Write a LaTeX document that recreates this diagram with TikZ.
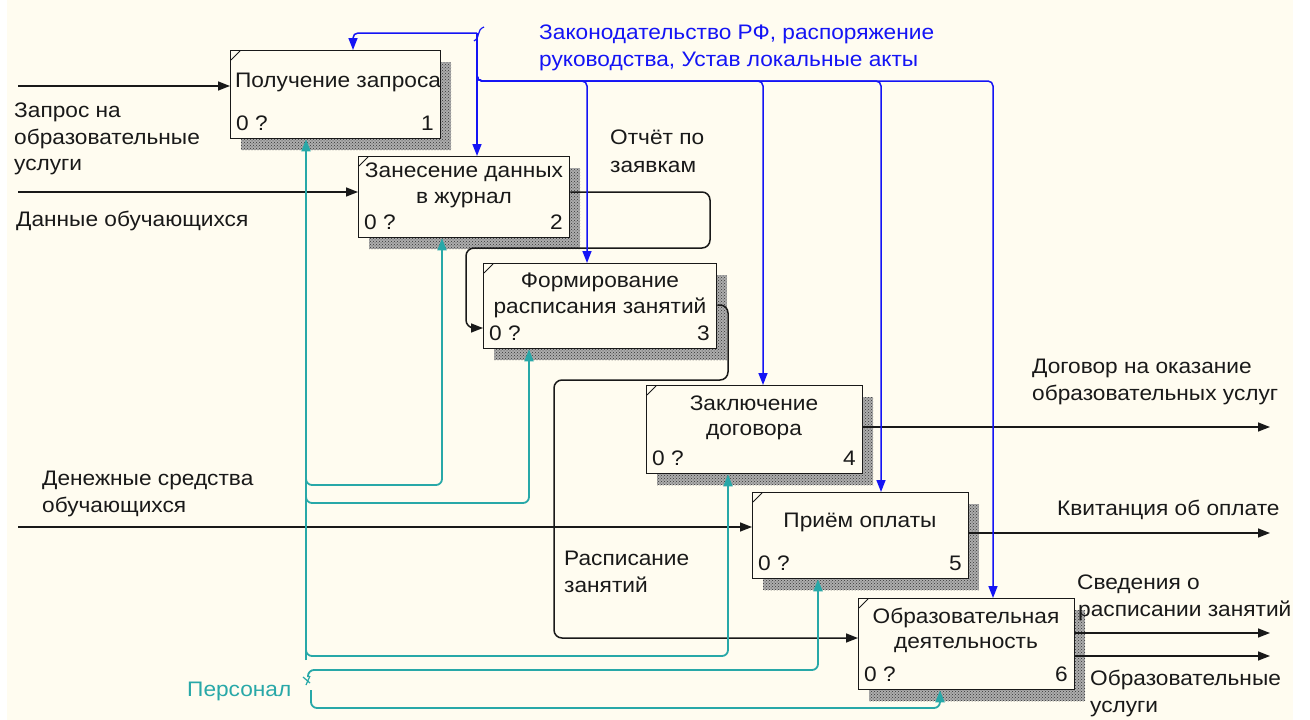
\documentclass[tikz,border=0pt]{standalone}
\usepackage{fontspec}
\setmainfont[FakeStretch=1.08]{Liberation Sans}
\usetikzlibrary{arrows.meta,patterns}

\definecolor{paper}{RGB}{255,252,240}
\definecolor{ctlblue}{RGB}{20,20,245}
\definecolor{mechteal}{RGB}{40,168,168}
\definecolor{ink}{RGB}{25,25,25}

\tikzset{
  fbox/.style={draw=ink, fill=paper, line width=1.3pt, inner sep=0pt, anchor=north west},
  boxshade/.style={preaction={fill=black!32}, pattern=crosshatch dots, pattern color=black!80},
  txt/.style={font=\fontsize{21}{27}\selectfont, text=ink, inner sep=0pt},
  ctltxt/.style={txt, text=ctlblue},
  mechtxt/.style={txt, text=mechteal},
  tip/.style={-{Triangle[length=12pt,width=9pt]}},
  flow/.style={draw=ink, line width=1.5pt, rounded corners=8pt, tip},
  ctl/.style={draw=ctlblue, line width=1.5pt, rounded corners=5pt, tip},
  mech/.style={draw=mechteal, line width=1.8pt, rounded corners=6pt, tip},
}

% activity box: name, x, y, width, height, number
\newcommand\actbox[6]{%
  \path[boxshade] (#2+11,#3+12) rectangle ++(#4,#5);
  \node[fbox, minimum width=#4pt, minimum height=#5pt] (#1) at (#2,#3) {};
  \draw[ink, line width=0.8pt] (#2+1,#3+10) -- (#2+10,#3+1);
  \node[txt, anchor=base west] (#1cost) at (#2+6,#3+#5-8) {0 ?};
  \node[txt, anchor=base east] (#1num) at (#2+#4-6,#3+#5-8) {#6};
}

\begin{document}
\begin{tikzpicture}[x=1pt, y=-1pt]
\useasboundingbox (0,0) rectangle (1310,720);
\fill[white] (0,0) rectangle (1310,720);
\fill[paper] (7,0) rectangle (1293,720);

% activities
\actbox{b1}{230}{50}{210}{88}{1}
\actbox{b2}{358}{156}{211}{81}{2}
\actbox{b3}{483}{263}{233}{85}{3}
\actbox{b4}{646}{385}{216}{88}{4}
\actbox{b5}{752}{492}{216}{86}{5}
\actbox{b6}{858}{598}{216}{91}{6}

\node[txt, anchor=base] (b1t) at (338,87) {Получение запроса};
\node[txt, anchor=base] (b2t) at (464,177) {Занесение данных};
\node[txt, anchor=base] (b2u) at (464,203) {в журнал};
\node[txt, anchor=base] (b3t) at (600,287) {Формирование};
\node[txt, anchor=base] (b3u) at (600,313) {расписания занятий};
\node[txt, anchor=base] (b4t) at (754,410) {Заключение};
\node[txt, anchor=base] (b4u) at (754,435) {договора};
\node[txt, anchor=base] (b5t) at (860,527) {Приём оплаты};
\node[txt, anchor=base] (b6t) at (966,623) {Образовательная};
\node[txt, anchor=base] (b6u) at (966,648) {деятельность};

% free ends of the boundary arrows
\coordinate (in1) at (18,86);
\coordinate (in2) at (18,192);
\coordinate (in5) at (18,527);
\coordinate (out4) at (1270,427);
\coordinate (out5) at (1270,533);
\coordinate (out6a) at (1270,633);
\coordinate (out6b) at (1270,656);
\coordinate (ctlsrc) at (477,33);
\coordinate (mechsrc) at (306,660);
\coordinate (mechtun) at (311,690);

% inputs
\draw[flow] (in1) -- (b1.west |- in1);
\draw[flow] (in2) -- (b2.west |- in2);
\draw[flow] (in5) -- (b5.west |- in5);

% internal feeds
\draw[flow] (b2.east |- 0,192) -- (710,192) -- (710,248) -- (466,248) -- (466,328) -- (b3.west |- 0,328);
\draw[flow] (b3.east |- 0,305) -- (728,305) -- (728,380) -- (554,380) -- (554,638) -- (b6.west |- 0,638);

% outputs
\draw[flow] (b4.east |- out4) -- (out4);
\draw[flow] (b5.east |- out5) -- (out5);
\draw[flow] (b6.east |- out6a) -- (out6a);
\draw[flow] (b6.east |- out6b) -- (out6b);

% controls
\draw[ctlblue, line width=1.2pt] (474,41) .. controls (481,37) and (476,30) .. (484,27);
\draw[ctl] (ctlsrc) -| (b1.north -| 353,0);
\draw[ctl] (ctlsrc) -- (b2.north -| ctlsrc);
\draw[ctl] (477,70) |- (587,81) -- (b3.north -| 587,0);
\draw[ctl] (477,70) |- (763,81) -- (b4.north -| 763,0);
\draw[ctl] (477,70) |- (881,81) -- (b5.north -| 881,0);
\draw[ctl] (477,70) |- (993,81) -- (b6.north -| 993,0);

% mechanisms
\draw[mechteal, line width=1.2pt] (303,677) -- (310,683) (310,676) -- (306,685);
\draw[mech] (mechsrc) -- (b1.south -| mechsrc);
\draw[mech] (306,470) |- (442,485) -- (b2.south -| 442,0);
\draw[mech] (306,490) |- (529,503) -- (b3.south -| 529,0);
\draw[mech] (306,640) |- (728,656) -- (b4.south -| 728,0);
\draw[mech] (308,677) |- (818,670) -- (b5.south -| 818,0);
\draw[mech] (mechtun) |- (940,708) -- (b6.south -| 940,0);

% arrow labels
\node[txt, anchor=base west] (l1a) at (14,117) {Запрос на};
\node[txt, anchor=base west] (l1b) at (14,144) {образовательные};
\node[txt, anchor=base west] (l1c) at (14,170) {услуги};
\node[txt, anchor=base west] (l2a) at (16,226) {Данные обучающихся};
\node[txt, anchor=base west] (l5a) at (42,485) {Денежные средства};
\node[txt, anchor=base west] (l5b) at (42,512) {обучающихся};
\node[txt, anchor=base west] (l23a) at (610,144) {Отчёт по};
\node[txt, anchor=base west] (l23b) at (610,172) {заявкам};
\node[txt, anchor=base west] (l36a) at (564,565) {Расписание};
\node[txt, anchor=base west] (l36b) at (564,592) {занятий};
\node[txt, anchor=base west] (l4a) at (1032,373) {Договор на оказание};
\node[txt, anchor=base west] (l4b) at (1032,400) {образовательных услуг};
\node[txt, anchor=base west] (l5c) at (1057,515) {Квитанция об оплате};
\node[txt, anchor=base west] (l6a) at (1077,589) {Сведения о};
\node[txt, anchor=base west] (l6b) at (1078,616) {расписании занятий};
\node[txt, anchor=base west] (l6c) at (1090,685) {Образовательные};
\node[txt, anchor=base west] (l6d) at (1090,712) {услуги};
\node[ctltxt, anchor=base west] (lca) at (539,39) {Законодательство РФ, распоряжение};
\node[ctltxt, anchor=base west] (lcb) at (539,66) {руководства, Устав локальные акты};
\node[mechtxt, anchor=base west] (lm) at (187,696) {Персонал};
\end{tikzpicture}
\end{document}
